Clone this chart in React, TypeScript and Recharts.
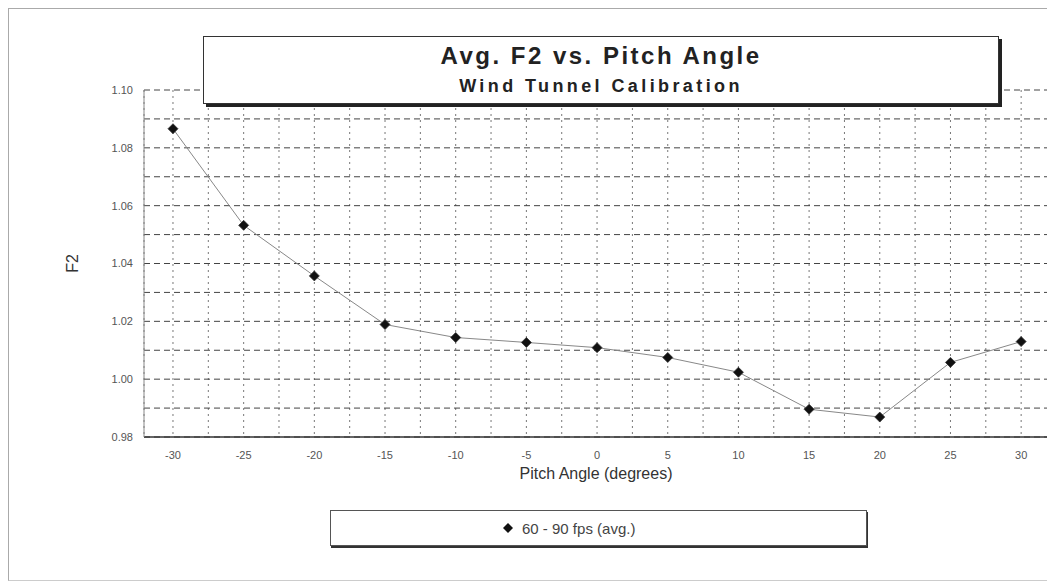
import { LineChart, Line, XAxis, YAxis, CartesianGrid } from "recharts";

const PITCH = [-30, -25, -20, -15, -10, -5, 0, 5, 10, 15, 20, 25, 30];
const F2_AVG = [1.0866, 1.0532, 1.0357, 1.0189, 1.0144, 1.0127, 1.0109, 1.0075, 1.0024, 0.9896, 0.9869, 1.0058, 1.013];
const X_TICKS = [-30, -27.5, -25, -22.5, -20, -17.5, -15, -12.5, -10, -7.5, -5, -2.5, 0, 2.5, 5, 7.5, 10, 12.5, 15, 17.5, 20, 22.5, 25, 27.5, 30];
const Y_TICKS = [0.98, 0.99, 1.0, 1.01, 1.02, 1.03, 1.04, 1.05, 1.06, 1.07, 1.08, 1.09, 1.1];
const SERIES_NAME = "60 - 90 fps (avg.)";

const data = PITCH.map((p, i) => ({ pitch: p, f2: F2_AVG[i] }));

const FONT = "'Liberation Sans', Arial, sans-serif";
const TICK = { fill: "#555", fontSize: 11, fontFamily: FONT };

function Diamond(props: any) {
  const { cx, cy } = props;
  if (cx == null || cy == null) return null;
  const r = 5;
  return <polygon points={`${cx},${cy - r} ${cx + r},${cy} ${cx},${cy + r} ${cx - r},${cy}`} fill="#111" stroke="#333" strokeWidth={0.8} />;
}

export default function App() {
  return (
    <div style={{ position: "relative", width: 1047, height: 573, fontFamily: FONT, background: "#fff" }}>
      <div style={{ position: "absolute", left: 0, top: 0, width: 1060, height: 571, borderLeft: "1px solid #aaa", borderTop: "1px solid #aaa", borderBottom: "1px solid #ccc" }} />

      <LineChart width={1047} height={573} data={data} margin={{ top: 82, right: 7, bottom: 114, left: 72 }} style={{ position: "absolute", left: 0, top: 0 }}>
        <CartesianGrid horizontal={false} stroke="#777" strokeDasharray="2 4" />
        <CartesianGrid vertical={false} stroke="#444" strokeDasharray="6 4" />
        <XAxis
          dataKey="pitch"
          type="number"
          domain={[-32.05, 31.9]}
          ticks={X_TICKS}
          interval={0}
          tickFormatter={(v: number) => (v % 5 === 0 ? String(v) : "")}
          tick={TICK}
          tickLine={false}
          tickSize={12}
          axisLine={{ stroke: "#333", strokeWidth: 1.5 }}
          height={30}
          label={{ value: "Pitch Angle (degrees)", position: "insideBottom", offset: -12, fill: "#333", fontSize: 16, fontFamily: FONT }}
        />
        <XAxis xAxisId="top" orientation="top" dataKey="pitch" type="number" domain={[-32.05, 31.9]} tick={false} tickLine={false} axisLine={{ stroke: "#888" }} height={0} />
        <YAxis
          type="number"
          domain={[0.98, 1.1]}
          ticks={Y_TICKS}
          interval={0}
          tickFormatter={(v: number) => (Math.round(v * 100) % 2 === 0 ? v.toFixed(2) : "")}
          tick={TICK}
          tickLine={false}
          tickSize={9}
          axisLine={{ stroke: "#888" }}
          width={64}
          label={{
            content: (p: any) => {
              const vb = p.viewBox || {};
              const x = vb.x - 8;
              const y = vb.y + vb.height / 2;
              return (
                <text x={x} y={y} transform={`rotate(-90 ${x} ${y})`} textAnchor="middle" dominantBaseline="central" fill="#333" fontSize={16} fontFamily={FONT}>
                  F2
                </text>
              );
            },
          }}
        />
        <Line type="linear" dataKey="f2" name={SERIES_NAME} stroke="#888" strokeWidth={1} dot={<Diamond />} isAnimationActive={false} />
      </LineChart>

      {/* right edge of the plot frame */}
      <div style={{ position: "absolute", left: 1039, top: 82, width: 2, height: 348, background: "#222" }} />

      <div style={{ position: "absolute", left: 195, top: 28, width: 794, height: 66, background: "#fff", border: "1px solid #333", boxShadow: "3px 3px 0 #222", textAlign: "center", color: "#222" }}>
        <div style={{ fontWeight: 700, fontSize: 24, letterSpacing: 2.5, lineHeight: "24px", marginTop: 7 }}>Avg. F2 vs. Pitch Angle</div>
        <div style={{ fontWeight: 700, fontSize: 18, letterSpacing: 3.4, lineHeight: "18px", marginTop: 9 }}>Wind Tunnel Calibration</div>
      </div>

      <div style={{ position: "absolute", left: 322, top: 502, width: 535, height: 34, background: "#fff", border: "1px solid #555", boxShadow: "1px 2px 0 #333", display: "flex", alignItems: "center" }}>
        <svg width={12} height={12} style={{ marginLeft: 171 }}>
          <polygon points="6,1 11,6 6,11 1,6" fill="#111" />
        </svg>
        <span style={{ marginLeft: 8, fontSize: 15, color: "#444" }}>{SERIES_NAME}</span>
      </div>
    </div>
  );
}
